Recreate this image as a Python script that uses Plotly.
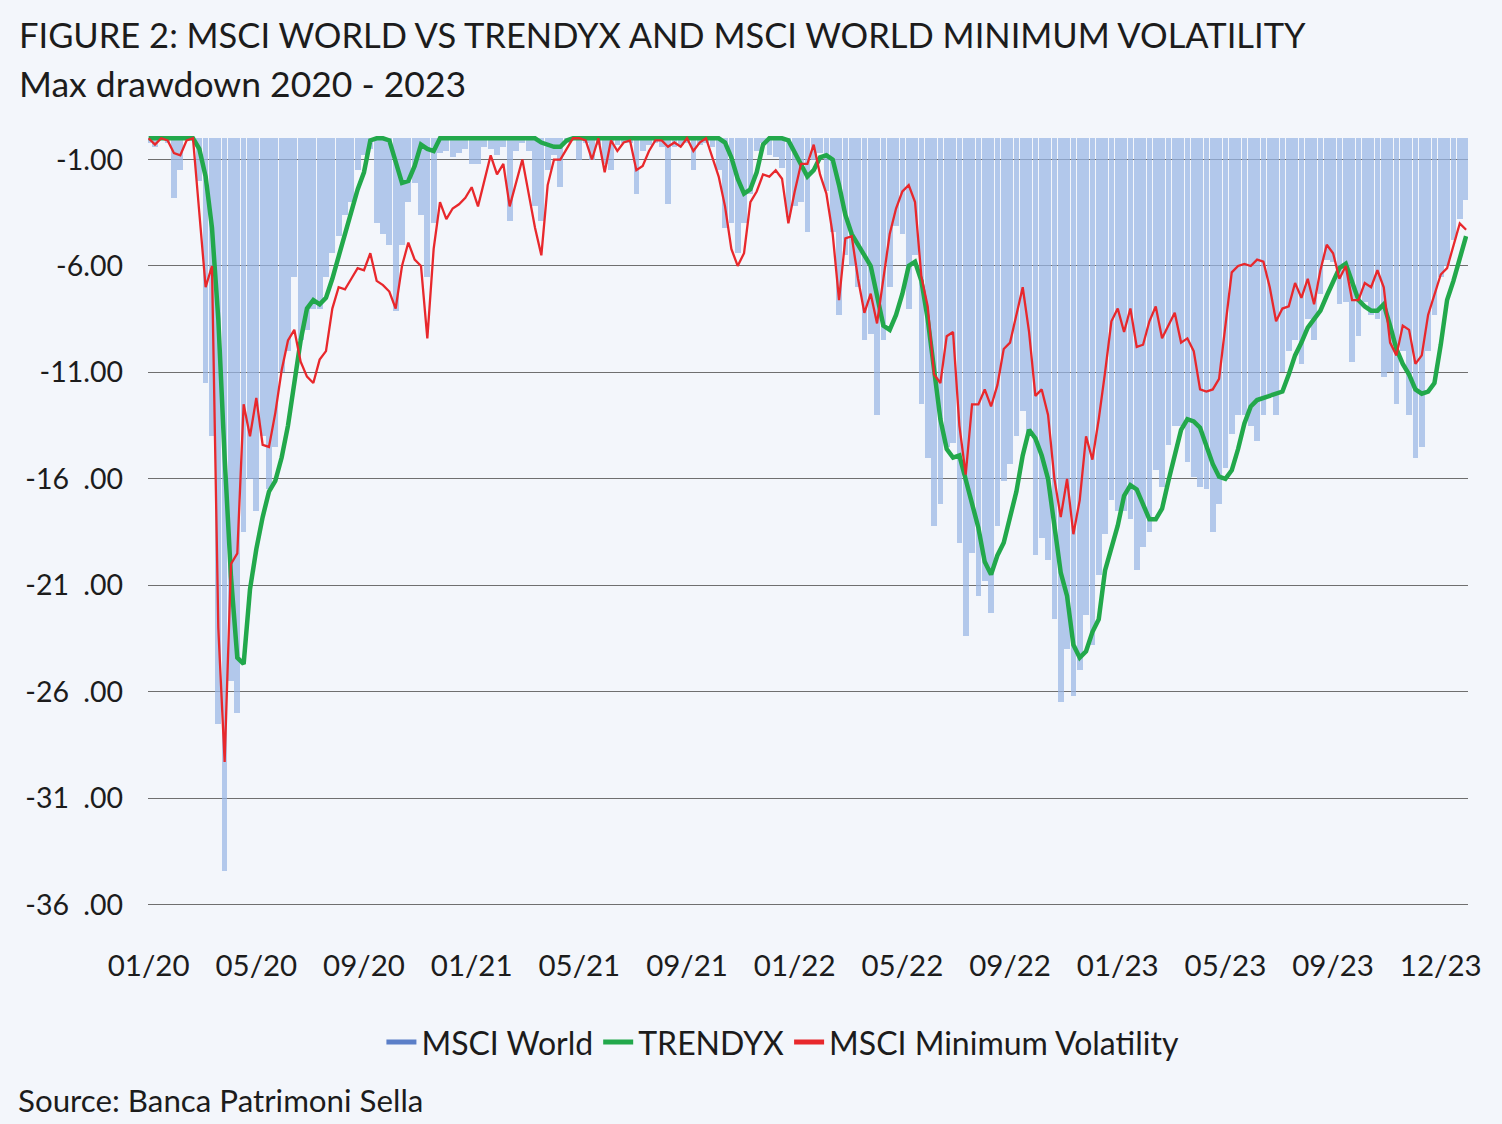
import plotly.graph_objects as go

# ---------------- data (weekly samples, 2020-01 .. 2023-12) ----------------
week = list(range(209))

tick_weeks = [0, 17, 34, 51, 68, 85, 102, 119, 136, 153, 170, 187, 204]
tick_labels = ['01/20', '05/20', '09/20', '01/21', '05/21', '09/21', '01/22',
               '05/22', '09/22', '01/23', '05/23', '09/23', '12/23']

y_ticks = [-1, -6, -11, -16, -21, -26, -31, -36]
y_labels = ['-1.00', '-6.00', '-11.00', '-16\u2002.00', '-21\u2002.00', '-26\u2002.00',
            '-31\u2002.00', '-36\u2002.00']

msci_world = [
    -0.2, -0.4, -0.1, -0.2, -2.8, -1.5, 0, 0, -2.0, -11.5,
    -14.0, -27.5, -34.4, -25.5, -27.0, -18.5, -16.0, -17.5, -14.0, -16.5,
    -14.5, -11.0, -10.0, -6.5, -9.5, -9.0, -8.0, -8.0, -6.5, -5.4,
    -4.6, -3.6, -3.0, -1.5, -0.8, -0.5, -4.0, -4.5, -5.0, -8.1,
    -5.0, -3.0, -2.1, -3.6, -6.5, -4.0, -0.7, -0.6, -0.9, -0.7,
    -0.5, -1.2, -1.2, -0.4, -0.5, -0.8, -0.4, -3.9, -0.6, -0.2,
    -0.6, -3.2, -3.9, -1.5, -0.8, -2.3, -0.2, 0, -1.0, -0.2,
    -1.0, -0.3, -1.2, -1.5, -0.3, -0.2, -0.2, -2.6, -0.6, -0.3,
    -0.2, -0.4, -3.1, -0.4, -0.3, -0.2, -1.5, -0.3, -0.2, -0.4,
    -1.5, -4.2, -4.0, -5.4, -4.0, -2.6, -0.6, -0.2, -0.8, -0.9,
    -1.4, -3.7, -3.2, -3.0, -4.4, -1.0, -0.7, -2.5, -4.4, -8.3,
    -5.5, -6.0, -7.0, -9.5, -9.2, -13.0, -9.5, -7.0, -4.1, -4.5,
    -8.0, -5.5, -12.5, -15.0, -18.2, -17.2, -14.5, -14.3, -19.0, -23.4,
    -19.5, -21.5, -20.8, -22.3, -18.2, -16.1, -15.3, -14.0, -12.8, -14.0,
    -19.6, -18.8, -19.8, -22.6, -26.5, -24.0, -26.2, -25.0, -22.4, -23.8,
    -20.5, -18.6, -17.0, -17.5, -17.5, -17.9, -20.3, -19.2, -18.5, -15.6,
    -16.4, -14.4, -13.5, -13.5, -15.2, -15.9, -16.4, -16.5, -18.5, -17.2,
    -15.5, -13.9, -13.0, -13.0, -13.5, -14.2, -13.0, -12.0, -13.0, -11.0,
    -10.0, -9.5, -10.6, -8.5, -9.5, -7.3, -5.7, -5.8, -7.8, -7.7,
    -10.5, -9.3, -7.7, -8.3, -8.5, -11.2, -11.0, -12.5, -10.0, -13.0,
    -15.0, -14.5, -10.0, -8.3, -6.5, -6.0, -4.8, -3.8, -2.9,
]

trendyx = [
    0, 0, 0, 0, 0, 0, 0, 0, -0.5, -1.8,
    -4.2, -8.5, -15.0, -20.6, -24.4, -24.7, -21.2, -19.3, -17.8, -16.6,
    -16.1, -15.0, -13.5, -11.4, -9.5, -8.0, -7.6, -7.8, -7.5, -6.6,
    -5.5, -4.4, -3.5, -2.4, -1.6, -0.1, 0, 0, -0.1, -1.2,
    -2.1, -2.0, -1.3, -0.3, -0.5, -0.6, 0, 0, 0, 0,
    0, 0, 0, 0, 0, 0, 0, 0, 0, 0,
    0, 0, -0.2, -0.3, -0.4, -0.4, -0.1, 0, 0, 0,
    0, 0, 0, 0, 0, 0, 0, 0, 0, 0,
    0, 0, 0, 0, 0, 0, 0, 0, 0, 0,
    0, -0.2, -0.9, -1.9, -2.6, -2.4, -1.6, -0.3, 0, 0,
    0, -0.1, -0.7, -1.3, -1.8, -1.5, -0.9, -0.8, -1.0, -2.2,
    -3.6, -4.5, -5.0, -5.5, -6.0, -7.4, -8.8, -9.0, -8.3, -7.3,
    -6.0, -5.8, -6.7, -8.5, -10.7, -13.2, -14.6, -15.0, -14.9, -16.0,
    -17.0, -18.3, -19.9, -20.5, -19.6, -19.0, -17.8, -16.6, -14.9, -13.7,
    -14.1, -14.9, -16.0, -18.2, -20.4, -21.5, -23.8, -24.4, -24.1, -23.2,
    -22.6, -20.3, -19.3, -18.2, -16.8, -16.3, -16.5, -17.2, -17.9, -17.9,
    -17.4, -16.1, -14.8, -13.7, -13.2, -13.3, -13.6, -14.5, -15.3, -15.9,
    -16.0, -15.6, -14.6, -13.4, -12.6, -12.3, -12.2, -12.1, -12.0, -11.9,
    -11.1, -10.2, -9.6, -8.9, -8.5, -8.1, -7.4, -6.7, -6.1, -5.9,
    -6.8, -7.6, -7.9, -8.1, -8.1, -7.8, -8.8, -9.9, -10.6, -11.1,
    -11.8, -12.0, -11.9, -11.5, -9.7, -7.6, -6.7, -5.7, -4.6,
]

min_vol = [
    0, -0.3, 0, -0.1, -0.7, -0.8, -0.1, 0, -3.5, -7.0,
    -6.0, -23.0, -29.3, -20.0, -19.5, -12.5, -14.0, -12.2, -14.4, -14.5,
    -12.9, -10.9, -9.5, -9.0, -10.5, -11.2, -11.5, -10.4, -10.0, -8.0,
    -7.0, -7.1, -6.6, -6.1, -6.2, -5.4, -6.7, -6.9, -7.2, -8.0,
    -6.0, -4.9, -5.7, -6.0, -9.4, -5.2, -3.0, -3.8, -3.3, -3.1,
    -2.8, -2.3, -3.2, -2.0, -0.8, -1.7, -1.2, -3.2, -2.1, -1.0,
    -2.6, -4.2, -5.5, -2.2, -1.0, -1.0, -0.5, 0, 0, -0.1,
    -1.0, 0, -1.6, -0.1, -0.6, -0.2, -0.1, -1.5, -1.3, -0.6,
    -0.1, -0.1, -0.4, -0.2, -0.4, 0, -0.6, -0.2, 0, -0.9,
    -1.8, -3.2, -5.2, -6.0, -5.4, -3.0, -2.5, -1.7, -1.8, -1.5,
    -1.9, -4.0, -2.5, -1.2, -1.2, -0.3, -1.7, -2.6, -4.5, -7.6,
    -4.7, -4.6, -6.6, -8.2, -7.3, -8.7, -6.5, -4.5, -3.3, -2.5,
    -2.2, -3.0, -6.5, -7.9, -11.1, -11.5, -9.3, -9.1, -13.5, -15.8,
    -12.5, -12.5, -11.8, -12.6, -11.6, -9.9, -9.6, -8.3, -7.0, -9.1,
    -12.1, -11.8, -13.0, -16.0, -17.8, -16.0, -18.6, -17.0, -14.0, -15.1,
    -13.2, -11.0, -8.6, -8.0, -9.1, -8.0, -9.8, -9.7, -8.6, -7.9,
    -9.4, -8.8, -8.2, -9.6, -9.4, -10.0, -11.8, -11.9, -11.8, -11.3,
    -8.7, -6.3, -6.0, -5.9, -6.0, -5.7, -5.8, -7.0, -8.6, -8.0,
    -7.9, -6.8, -7.5, -6.6, -7.8, -6.2, -5.0, -5.4, -6.6, -6.0,
    -7.6, -7.6, -6.8, -7.0, -6.2, -7.0, -9.6, -10.2, -8.8, -9.0,
    -10.6, -10.2, -8.3, -7.4, -6.4, -6.1, -5.1, -4.0, -4.3,
]

# ---------------- styling ----------------
BG = '#f3f6fb'
TXT = '#1c1c1c'
FONT = 'Lato, "Open Sans", sans-serif'
BAR_C = 'rgba(152,182,228,0.72)'
GREEN = '#22a84b'
RED = '#e8282c'

fig = go.Figure()

fig.add_trace(go.Bar(
    x=week, y=msci_world, width=0.9, marker=dict(color=BAR_C, line=dict(width=0)),
    name='MSCI World', showlegend=False, hoverinfo='y'))
fig.add_trace(go.Scatter(
    x=week, y=trendyx, mode='lines', line=dict(color=GREEN, width=4.5),
    name='TRENDYX', showlegend=False))
fig.add_trace(go.Scatter(
    x=week, y=min_vol, mode='lines', line=dict(color=RED, width=2.3),
    name='MSCI Minimum Volatility', showlegend=False))

# legend entries
for nm, col in [('MSCI World', '#5b7fc8'), ('TRENDYX', GREEN), ('MSCI Minimum Volatility', RED)]:
    fig.add_trace(go.Scatter(x=[None], y=[None], mode='lines', name=nm,
                             line=dict(color=col, width=5)))

fig.update_layout(
    width=1502, height=1124,
    paper_bgcolor=BG, plot_bgcolor=BG,
    margin=dict(l=148, r=34, t=134, b=179),
    font=dict(family=FONT, color=TXT, size=28),
    showlegend=True,
    legend=dict(orientation='h', x=0.481, xanchor='center', y=-0.12, yanchor='middle',
                font=dict(size=32, color=TXT), bgcolor='rgba(0,0,0,0)',
                itemwidth=30, tracegroupgap=0),
    bargap=0,
    xaxis=dict(range=[-0.1, 208.3], tickmode='array', tickvals=tick_weeks, ticktext=tick_labels,
               showgrid=False, zeroline=False, showline=False, ticks='',
               tickfont=dict(size=29.5, color=TXT)),
    yaxis=dict(range=[-37.9, 0.2], tickmode='array', tickvals=y_ticks, ticktext=y_labels,
               showgrid=True, gridcolor='#6f6f6f', gridwidth=1, zeroline=False, showline=False,
               ticklabelstandoff=24, tickfont=dict(size=28.5, color=TXT)),
    annotations=[
        dict(text='FIGURE 2: MSCI WORLD VS TRENDYX AND MSCI WORLD MINIMUM VOLATILITY',
             xref='paper', yref='paper', x=-0.0993, y=1.1223, xanchor='left', yanchor='middle',
             showarrow=False, font=dict(size=34.5, color=TXT)),
        dict(text='Max drawdown 2020 - 2023',
             xref='paper', yref='paper', x=-0.0993, y=1.0619, xanchor='left', yanchor='middle',
             showarrow=False, font=dict(size=35.5, color=TXT)),
        dict(text='Source: Banca Patrimoni Sella',
             xref='paper', yref='paper', x=-0.1, y=-0.1906, xanchor='left', yanchor='middle',
             showarrow=False, font=dict(size=31.3, color=TXT)),
    ],
)

fig.write_html('out.html', config={'displayModeBar': False},
               post_script="document.body.style.margin='0';document.body.style.overflow='hidden';")
